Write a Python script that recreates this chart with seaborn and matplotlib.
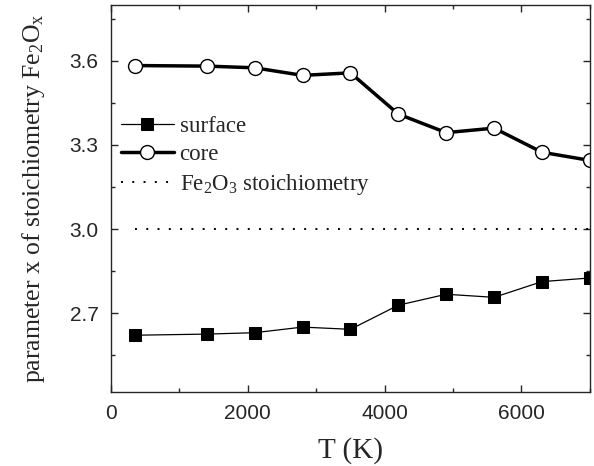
import matplotlib
matplotlib.use("Agg")
import matplotlib.pyplot as plt
import numpy as np
import pandas as pd
import seaborn as sns

# temperatures (K) and stoichiometry parameter x
temperature = [350, 1400, 2100, 2800, 3500, 4200, 4900, 5600, 6300, 7000]
x_surface = [2.622, 2.626, 2.631, 2.651, 2.643, 2.729, 2.768, 2.757, 2.813, 2.826]
x_core = [3.583, 3.581, 3.575, 3.548, 3.557, 3.410, 3.344, 3.360, 3.274, 3.245]
x_fe2o3 = [3.0] * len(temperature)

df = pd.DataFrame({"T": temperature, "surface": x_surface,
                   "core": x_core, "fe2o3": x_fe2o3})

sns.set_style("ticks")
plt.rcParams["font.family"] = "Liberation Serif"
plt.rcParams["mathtext.fontset"] = "custom"
plt.rcParams["mathtext.rm"] = "Liberation Serif"
plt.rcParams["mathtext.it"] = "Liberation Serif"

fig, ax = plt.subplots(figsize=(5.94, 4.66), dpi=100)

sns.lineplot(data=df, x="T", y="surface", ax=ax, color="black", lw=0.9,
             marker="s", markersize=8.5, markeredgecolor="black",
             markerfacecolor="black", label="surface")
sns.lineplot(data=df, x="T", y="core", ax=ax, color="black", lw=2.5,
             marker="o", markersize=10, markeredgecolor="black",
             markeredgewidth=1.0, markerfacecolor="white", label="core")
sns.lineplot(data=df, x="T", y="fe2o3", ax=ax, color="black", lw=1.4,
             linestyle=(0, (1.0, 4.8)), label=r"Fe$_2$O$_3$ stoichiometry")

ax.set_xlim(0, 7000)
ax.set_ylim(2.42, 3.80)
ax.set_xticks([0, 2000, 4000, 6000])
ax.set_xticks([1000, 3000, 5000, 7000], minor=True)
ax.set_yticks([2.7, 3.0, 3.3, 3.6])
ax.set_yticks([2.55, 2.85, 3.15, 3.45, 3.75], minor=True)
ax.set_yticklabels(["2.7", "3.0", "3.3", "3.6"])

ax.tick_params(direction="in", which="major", length=5, width=1,
               top=True, right=True, labelsize=15,
               labelfontfamily="Liberation Sans")
ax.tick_params(axis="x", which="major", pad=9)
ax.tick_params(axis="y", which="major", pad=9)
ax.tick_params(direction="in", which="minor", length=3, width=1,
               top=True, right=True)
for s in ax.spines.values():
    s.set_linewidth(1.0)

ax.set_xlabel("T (K)", fontsize=21, labelpad=10)
ax.set_ylabel(r"parameter x of stoichiometry Fe$_2$O$_x$", fontsize=18.5,
              labelpad=16)

leg = ax.legend(loc="upper left", bbox_to_anchor=(0.021, 0.712), frameon=False,
                fontsize=16.5, handlelength=2.3, handletextpad=0.25,
                labelspacing=0.3, borderaxespad=0.0, borderpad=0.0)

fig.subplots_adjust(left=0.187, right=0.993, top=0.99, bottom=0.159)
fig.savefig("out.png", dpi=100)
